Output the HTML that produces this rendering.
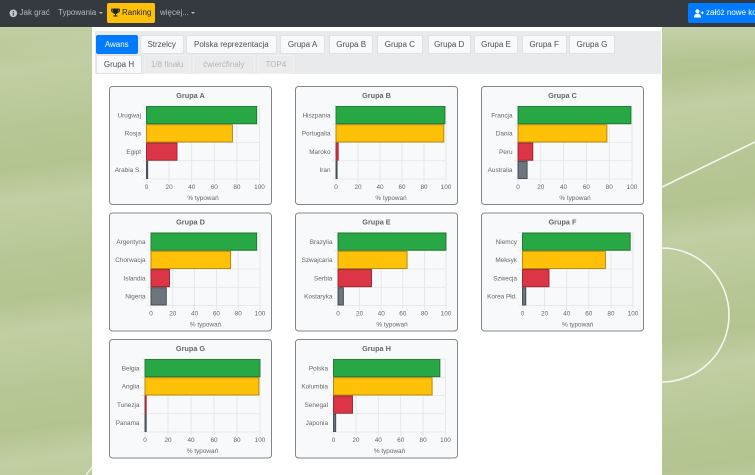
<!DOCTYPE html>
<html><head><meta charset="utf-8">
<style>
*{margin:0;padding:0;box-sizing:border-box}
html,body{width:755px;height:475px;overflow:hidden}
body{position:relative;font-family:"Liberation Sans",sans-serif;
background:
linear-gradient(180deg,rgba(225,232,214,.55) 0px,rgba(225,232,214,0) 60px),
repeating-linear-gradient(172deg,#b6c694 0px,#b4c491 40px,#c0cea3 70px,#bccb9d 100px,#b6c694 130px);
}
.nav{position:absolute;left:0;top:0;width:755px;height:27px;background:#343a40}
.nt{position:absolute;top:0;line-height:26px;font-size:8px;color:#b8babc;white-space:nowrap}
.caret{position:absolute;top:12px;width:0;height:0;border-left:2.2px solid transparent;border-right:2.2px solid transparent;border-top:2.5px solid #b8babc}
.btn{position:absolute;top:3px;height:19.5px;border-radius:2px;font-size:8px;line-height:19.5px;white-space:nowrap;overflow:hidden}
.cont{position:absolute;left:92px;top:27px;width:570px;height:448px;background:#fff}
.bar{position:absolute;left:95px;top:31px;width:565.5px;height:43px;background:#e9eaeb}
.tab{position:absolute;height:19px;font-size:8px;line-height:18px;text-align:center;color:#495057;background:#f8f9fa;border:1px solid #dfe1e3;border-radius:2px;white-space:nowrap}
.tab.act{background:#007bff;border-color:#007bff;color:#fff}
.tab.dis{background:#ebebeb;border-color:#f1f1f1;color:#b3b7bb}
svg text{font-family:"Liberation Sans",sans-serif}
</style></head><body>
<svg style="position:absolute;left:0;top:0" width="755" height="475">
<line x1="660" y1="188" x2="755" y2="142" stroke="#f4f6ef" stroke-width="1.6"/>
<circle cx="662" cy="315" r="67" fill="none" stroke="#f4f6ef" stroke-width="1.6"/>
<line x1="86" y1="475" x2="93" y2="466" stroke="#f4f6ef" stroke-width="1.2"/>
</svg>

<div class="nav">
<svg style="position:absolute;left:9px;top:9px" width="9" height="9"><circle cx="4.3" cy="4.3" r="3.8" fill="#c4c6c8"/><rect x="3.8" y="3.6" width="1.1" height="3" fill="#343a40"/><rect x="3.8" y="2" width="1.1" height="1" fill="#343a40"/></svg>
<div class="nt" style="left:19.5px">Jak grać</div>
<div class="nt" style="left:58px">Typowania</div>
<div class="caret" style="left:99px"></div>
<div class="btn" style="left:107px;width:48px;background:#ffc107;color:#212529">
<svg style="position:absolute;left:4px;top:5px" width="9" height="9"><path d="M1.5 0.5h6v2.5c0 1.8-1.2 3-3 3s-3-1.2-3-3z" fill="#212529"/><path d="M1.5 1.2H0.4v1c0 1.3 0.9 2 1.8 2.2M7.5 1.2h1.1v1c0 1.3-0.9 2-1.8 2.2" fill="none" stroke="#212529" stroke-width="0.8"/><rect x="4" y="5.8" width="1" height="1.6" fill="#212529"/><rect x="2.5" y="7.4" width="4" height="1.2" fill="#212529"/></svg>
<span style="position:absolute;left:15px;top:0">Ranking</span></div>
<div class="nt" style="left:160px">więcej...</div>
<div class="caret" style="left:191px"></div>
<div class="btn" style="left:688px;width:80px;background:#007bff;color:#fff">
<svg style="position:absolute;left:6px;top:5.5px" width="10" height="9"><circle cx="3.5" cy="2.3" r="2.1" fill="#fff"/><path d="M0 8.5c0-2.6 1.4-3.7 3.5-3.7s3.5 1.1 3.5 3.7z" fill="#fff"/><rect x="6.8" y="3.3" width="3" height="0.9" fill="#fff"/><rect x="7.85" y="2.25" width="0.9" height="3" fill="#fff"/></svg>
<span style="position:absolute;left:18px;top:0">załóż nowe konto</span></div>
</div>

<div class="cont"></div>
<div class="bar"></div>
<div class="tab act" style="left:96px;top:35px;width:41.5px">Awans</div>
<div class="tab" style="left:139.7px;top:35px;width:44px">Strzelcy</div>
<div class="tab" style="left:186px;top:35px;width:90.7px">Polska reprezentacja</div>
<div class="tab" style="left:280px;top:35px;width:45px">Grupa A</div>
<div class="tab" style="left:329px;top:35px;width:44.3px">Grupa B</div>
<div class="tab" style="left:376.7px;top:35px;width:46.3px">Grupa C</div>
<div class="tab" style="left:427.7px;top:35px;width:43px">Grupa D</div>
<div class="tab" style="left:474px;top:35px;width:44px">Grupa E</div>
<div class="tab" style="left:521.7px;top:35px;width:45px">Grupa F</div>
<div class="tab" style="left:569px;top:35px;width:46px">Grupa G</div>
<div class="tab" style="left:96px;top:55px;width:46px;height:18.5px">Grupa H</div>
<div class="tab dis" style="left:144.3px;top:55px;width:45.7px;height:18.5px">1/8 finału</div>
<div class="tab dis" style="left:192.7px;top:55px;width:62.3px;height:18.5px">ćwierćfinały</div>
<div class="tab dis" style="left:257.7px;top:55px;width:36.3px;height:18.5px">TOP4</div>

<svg style="position:absolute;left:0;top:0" width="755" height="475">
<style>
.box{fill:#f8f9fa;stroke:#858585;stroke-width:1}
.g{stroke:#e2e3e4;stroke-width:0.8}
.t{font-size:7.3px;font-weight:bold;fill:#666;text-anchor:middle}
.l{font-size:6.4px;fill:#666;text-anchor:end}
.k{font-size:6.4px;fill:#666;text-anchor:middle}
.gr{fill:#28a745;stroke:#1c7430;stroke-width:0.9}
.ye{fill:#ffc107;stroke:#ad8304;stroke-width:0.9}
.re{fill:#dc3545;stroke:#97222d;stroke-width:0.9}
.gy{fill:#6c757d;stroke:#40464b;stroke-width:0.9}
</style>

<!-- A -->
<rect class="box" x="109.5" y="86.5" width="162" height="118" rx="3"/>
<text class="t" x="190.5" y="97.8">Grupa A</text>
<g class="g"><line x1="146.5" y1="106" x2="146.5" y2="183"/><line x1="169.1" y1="106" x2="169.1" y2="183"/><line x1="191.7" y1="106" x2="191.7" y2="183"/><line x1="214.3" y1="106" x2="214.3" y2="183"/><line x1="236.9" y1="106" x2="236.9" y2="183"/><line x1="259.5" y1="106" x2="259.5" y2="183"/>
<line x1="142.5" y1="106" x2="259.5" y2="106"/><line x1="142.5" y1="124.25" x2="259.5" y2="124.25"/><line x1="142.5" y1="142.5" x2="259.5" y2="142.5"/><line x1="142.5" y1="160.75" x2="259.5" y2="160.75"/><line x1="142.5" y1="179" x2="259.5" y2="179"/></g>
<rect class="gr" x="146.5" y="106.5" width="110.2" height="17.25"/>
<rect class="ye" x="146.5" y="124.75" width="85.9" height="17.25"/>
<rect class="re" x="146.5" y="143" width="30.5" height="17.25"/>
<rect class="gy" x="146.5" y="161.25" width="1.2" height="17.25"/>
<text class="l" x="141" y="117.3">Urugwaj</text><text class="l" x="141" y="135.6">Rosja</text><text class="l" x="141" y="153.8">Egipt</text><text class="l" x="141" y="172.1">Arabia S.</text>
<text class="k" x="146.5" y="189.2">0</text><text class="k" x="169.1" y="189.2">20</text><text class="k" x="191.7" y="189.2">40</text><text class="k" x="214.3" y="189.2">60</text><text class="k" x="236.9" y="189.2">80</text><text class="k" x="259.5" y="189.2">100</text>
<text class="k" x="203" y="200.2">% typowań</text>

<!-- B -->
<rect class="box" x="295.5" y="86.5" width="162" height="118" rx="3"/>
<text class="t" x="376.5" y="97.8">Grupa B</text>
<g class="g"><line x1="336" y1="106" x2="336" y2="183"/><line x1="358" y1="106" x2="358" y2="183"/><line x1="380" y1="106" x2="380" y2="183"/><line x1="402" y1="106" x2="402" y2="183"/><line x1="424" y1="106" x2="424" y2="183"/><line x1="446" y1="106" x2="446" y2="183"/>
<line x1="332" y1="106" x2="446" y2="106"/><line x1="332" y1="124.25" x2="446" y2="124.25"/><line x1="332" y1="142.5" x2="446" y2="142.5"/><line x1="332" y1="160.75" x2="446" y2="160.75"/><line x1="332" y1="179" x2="446" y2="179"/></g>
<rect class="gr" x="336" y="106.5" width="108.9" height="17.25"/>
<rect class="ye" x="336" y="124.75" width="107.8" height="17.25"/>
<rect class="re" x="336" y="143" width="2.2" height="17.25"/>
<rect class="gy" x="336" y="161.25" width="1.1" height="17.25"/>
<text class="l" x="330.5" y="117.3">Hiszpania</text><text class="l" x="330.5" y="135.6">Portugalia</text><text class="l" x="330.5" y="153.8">Maroko</text><text class="l" x="330.5" y="172.1">Iran</text>
<text class="k" x="336" y="189.2">0</text><text class="k" x="358" y="189.2">20</text><text class="k" x="380" y="189.2">40</text><text class="k" x="402" y="189.2">60</text><text class="k" x="424" y="189.2">80</text><text class="k" x="446" y="189.2">100</text>
<text class="k" x="391" y="200.2">% typowań</text>

<!-- C -->
<rect class="box" x="481.5" y="86.5" width="162" height="118" rx="3"/>
<text class="t" x="562.5" y="97.8">Grupa C</text>
<g class="g"><line x1="518" y1="106" x2="518" y2="183"/><line x1="540.8" y1="106" x2="540.8" y2="183"/><line x1="563.6" y1="106" x2="563.6" y2="183"/><line x1="586.4" y1="106" x2="586.4" y2="183"/><line x1="609.2" y1="106" x2="609.2" y2="183"/><line x1="632" y1="106" x2="632" y2="183"/>
<line x1="514" y1="106" x2="632" y2="106"/><line x1="514" y1="124.25" x2="632" y2="124.25"/><line x1="514" y1="142.5" x2="632" y2="142.5"/><line x1="514" y1="160.75" x2="632" y2="160.75"/><line x1="514" y1="179" x2="632" y2="179"/></g>
<rect class="gr" x="518" y="106.5" width="112.9" height="17.25"/>
<rect class="ye" x="518" y="124.75" width="88.9" height="17.25"/>
<rect class="re" x="518" y="143" width="14.8" height="17.25"/>
<rect class="gy" x="518" y="161.25" width="9.1" height="17.25"/>
<text class="l" x="512.5" y="117.3">Francja</text><text class="l" x="512.5" y="135.6">Dania</text><text class="l" x="512.5" y="153.8">Peru</text><text class="l" x="512.5" y="172.1">Australia</text>
<text class="k" x="518" y="189.2">0</text><text class="k" x="540.8" y="189.2">20</text><text class="k" x="563.6" y="189.2">40</text><text class="k" x="586.4" y="189.2">60</text><text class="k" x="609.2" y="189.2">80</text><text class="k" x="632" y="189.2">100</text>
<text class="k" x="575" y="200.2">% typowań</text>

<!-- D -->
<rect class="box" x="109.5" y="213" width="162" height="118" rx="3"/>
<text class="t" x="190.5" y="224.3">Grupa D</text>
<g class="g"><line x1="151" y1="232.5" x2="151" y2="309.5"/><line x1="172.8" y1="232.5" x2="172.8" y2="309.5"/><line x1="194.6" y1="232.5" x2="194.6" y2="309.5"/><line x1="216.4" y1="232.5" x2="216.4" y2="309.5"/><line x1="238.2" y1="232.5" x2="238.2" y2="309.5"/><line x1="260" y1="232.5" x2="260" y2="309.5"/>
<line x1="147" y1="232.5" x2="260" y2="232.5"/><line x1="147" y1="250.75" x2="260" y2="250.75"/><line x1="147" y1="269" x2="260" y2="269"/><line x1="147" y1="287.25" x2="260" y2="287.25"/><line x1="147" y1="305.5" x2="260" y2="305.5"/></g>
<rect class="gr" x="151" y="233" width="105.7" height="17.25"/>
<rect class="ye" x="151" y="251.25" width="79.6" height="17.25"/>
<rect class="re" x="151" y="269.5" width="18.5" height="17.25"/>
<rect class="gy" x="151" y="287.75" width="15.3" height="17.25"/>
<text class="l" x="145.5" y="243.8">Argentyna</text><text class="l" x="145.5" y="262.1">Chorwacja</text><text class="l" x="145.5" y="280.3">Islandia</text><text class="l" x="145.5" y="298.6">Nigeria</text>
<text class="k" x="151" y="315.7">0</text><text class="k" x="172.8" y="315.7">20</text><text class="k" x="194.6" y="315.7">40</text><text class="k" x="216.4" y="315.7">60</text><text class="k" x="238.2" y="315.7">80</text><text class="k" x="260" y="315.7">100</text>
<text class="k" x="205.5" y="326.7">% typowań</text>

<!-- E -->
<rect class="box" x="295.5" y="213" width="162" height="118" rx="3"/>
<text class="t" x="376.5" y="224.3">Grupa E</text>
<g class="g"><line x1="338" y1="232.5" x2="338" y2="309.5"/><line x1="359.6" y1="232.5" x2="359.6" y2="309.5"/><line x1="381.2" y1="232.5" x2="381.2" y2="309.5"/><line x1="402.8" y1="232.5" x2="402.8" y2="309.5"/><line x1="424.4" y1="232.5" x2="424.4" y2="309.5"/><line x1="446" y1="232.5" x2="446" y2="309.5"/>
<line x1="334" y1="232.5" x2="446" y2="232.5"/><line x1="334" y1="250.75" x2="446" y2="250.75"/><line x1="334" y1="269" x2="446" y2="269"/><line x1="334" y1="287.25" x2="446" y2="287.25"/><line x1="334" y1="305.5" x2="446" y2="305.5"/></g>
<rect class="gr" x="338" y="233" width="108" height="17.25"/>
<rect class="ye" x="338" y="251.25" width="69.1" height="17.25"/>
<rect class="re" x="338" y="269.5" width="33.5" height="17.25"/>
<rect class="gy" x="338" y="287.75" width="5.4" height="17.25"/>
<text class="l" x="332.5" y="243.8">Brazylia</text><text class="l" x="332.5" y="262.1">Szwajcaria</text><text class="l" x="332.5" y="280.3">Serbia</text><text class="l" x="332.5" y="298.6">Kostaryka</text>
<text class="k" x="338" y="315.7">0</text><text class="k" x="359.6" y="315.7">20</text><text class="k" x="381.2" y="315.7">40</text><text class="k" x="402.8" y="315.7">60</text><text class="k" x="424.4" y="315.7">80</text><text class="k" x="446" y="315.7">100</text>
<text class="k" x="392" y="326.7">% typowań</text>

<!-- F -->
<rect class="box" x="481.5" y="213" width="162" height="118" rx="3"/>
<text class="t" x="562.5" y="224.3">Grupa F</text>
<g class="g"><line x1="522.5" y1="232.5" x2="522.5" y2="309.5"/><line x1="544.6" y1="232.5" x2="544.6" y2="309.5"/><line x1="566.7" y1="232.5" x2="566.7" y2="309.5"/><line x1="588.8" y1="232.5" x2="588.8" y2="309.5"/><line x1="610.9" y1="232.5" x2="610.9" y2="309.5"/><line x1="633" y1="232.5" x2="633" y2="309.5"/>
<line x1="518.5" y1="232.5" x2="633" y2="232.5"/><line x1="518.5" y1="250.75" x2="633" y2="250.75"/><line x1="518.5" y1="269" x2="633" y2="269"/><line x1="518.5" y1="287.25" x2="633" y2="287.25"/><line x1="518.5" y1="305.5" x2="633" y2="305.5"/></g>
<rect class="gr" x="522.5" y="233" width="107.7" height="17.25"/>
<rect class="ye" x="522.5" y="251.25" width="82.9" height="17.25"/>
<rect class="re" x="522.5" y="269.5" width="26.5" height="17.25"/>
<rect class="gy" x="522.5" y="287.75" width="3.3" height="17.25"/>
<text class="l" x="517" y="243.8">Niemcy</text><text class="l" x="517" y="262.1">Meksyk</text><text class="l" x="517" y="280.3">Szwecja</text><text class="l" x="517" y="298.6">Korea Płd.</text>
<text class="k" x="522.5" y="315.7">0</text><text class="k" x="544.6" y="315.7">20</text><text class="k" x="566.7" y="315.7">40</text><text class="k" x="588.8" y="315.7">60</text><text class="k" x="610.9" y="315.7">80</text><text class="k" x="633" y="315.7">100</text>
<text class="k" x="577.7" y="326.7">% typowań</text>

<!-- G -->
<rect class="box" x="109.5" y="339.5" width="162" height="118.5" rx="3"/>
<text class="t" x="190.5" y="350.8">Grupa G</text>
<g class="g"><line x1="145" y1="359" x2="145" y2="436"/><line x1="168" y1="359" x2="168" y2="436"/><line x1="191" y1="359" x2="191" y2="436"/><line x1="214" y1="359" x2="214" y2="436"/><line x1="237" y1="359" x2="237" y2="436"/><line x1="260" y1="359" x2="260" y2="436"/>
<line x1="141" y1="359" x2="260" y2="359"/><line x1="141" y1="377.25" x2="260" y2="377.25"/><line x1="141" y1="395.5" x2="260" y2="395.5"/><line x1="141" y1="413.75" x2="260" y2="413.75"/><line x1="141" y1="432" x2="260" y2="432"/></g>
<rect class="gr" x="145" y="359.5" width="115" height="17.25"/>
<rect class="ye" x="145" y="377.75" width="113.9" height="17.25"/>
<rect class="re" x="145" y="396" width="1.2" height="17.25"/>
<rect class="gy" x="145" y="414.25" width="1.2" height="17.25"/>
<text class="l" x="139.5" y="370.3">Belgia</text><text class="l" x="139.5" y="388.6">Anglia</text><text class="l" x="139.5" y="406.8">Tunezja</text><text class="l" x="139.5" y="425.1">Panama</text>
<text class="k" x="145" y="442.2">0</text><text class="k" x="168" y="442.2">20</text><text class="k" x="191" y="442.2">40</text><text class="k" x="214" y="442.2">60</text><text class="k" x="237" y="442.2">80</text><text class="k" x="260" y="442.2">100</text>
<text class="k" x="202.5" y="453.2">% typowań</text>

<!-- H -->
<rect class="box" x="295.5" y="339.5" width="162" height="118.5" rx="3"/>
<text class="t" x="376.5" y="350.8">Grupa H</text>
<g class="g"><line x1="333.5" y1="359" x2="333.5" y2="436"/><line x1="355.9" y1="359" x2="355.9" y2="436"/><line x1="378.3" y1="359" x2="378.3" y2="436"/><line x1="400.7" y1="359" x2="400.7" y2="436"/><line x1="423.1" y1="359" x2="423.1" y2="436"/><line x1="445.5" y1="359" x2="445.5" y2="436"/>
<line x1="329.5" y1="359" x2="445.5" y2="359"/><line x1="329.5" y1="377.25" x2="445.5" y2="377.25"/><line x1="329.5" y1="395.5" x2="445.5" y2="395.5"/><line x1="329.5" y1="413.75" x2="445.5" y2="413.75"/><line x1="329.5" y1="432" x2="445.5" y2="432"/></g>
<rect class="gr" x="333.5" y="359.5" width="106.4" height="17.25"/>
<rect class="ye" x="333.5" y="377.75" width="98.6" height="17.25"/>
<rect class="re" x="333.5" y="396" width="19" height="17.25"/>
<rect class="gy" x="333.5" y="414.25" width="2.2" height="17.25"/>
<text class="l" x="328" y="370.3">Polska</text><text class="l" x="328" y="388.6">Kolumbia</text><text class="l" x="328" y="406.8">Senegal</text><text class="l" x="328" y="425.1">Japonia</text>
<text class="k" x="333.5" y="442.2">0</text><text class="k" x="355.9" y="442.2">20</text><text class="k" x="378.3" y="442.2">40</text><text class="k" x="400.7" y="442.2">60</text><text class="k" x="423.1" y="442.2">80</text><text class="k" x="445.5" y="442.2">100</text>
<text class="k" x="389.5" y="453.2">% typowań</text>
</svg>
</body></html>
